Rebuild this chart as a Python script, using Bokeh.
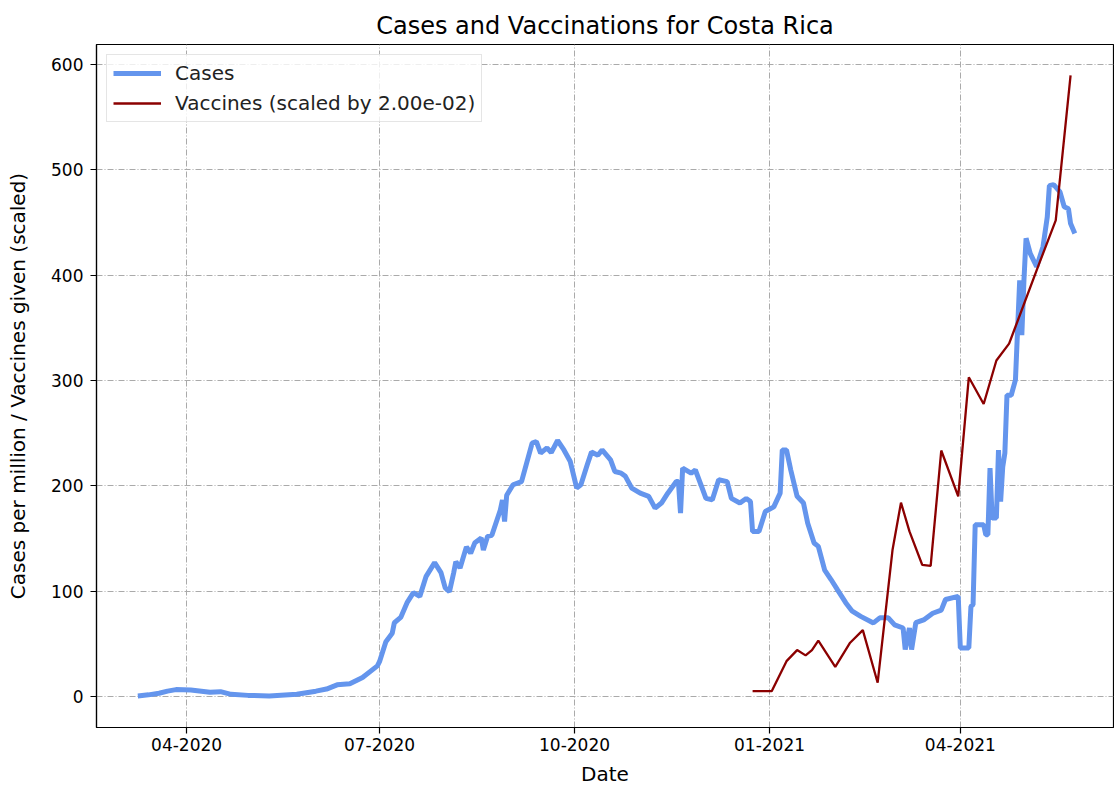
import pandas as pd
from bokeh.plotting import figure
from bokeh.models import Range1d, FixedTicker, DatetimeTickFormatter, ColumnDataSource
from bokeh.embed import file_html
from bokeh.resources import INLINE

# ---------------- data ----------------
case_dates = [
    "2020-03-09", "2020-03-14", "2020-03-19", "2020-03-23", "2020-03-27", "2020-04-03",
    "2020-04-08", "2020-04-12", "2020-04-17", "2020-04-22", "2020-04-30", "2020-05-10",
    "2020-05-23", "2020-06-01", "2020-06-06", "2020-06-11", "2020-06-17", "2020-06-23",
    "2020-06-30", "2020-07-01", "2020-07-04", "2020-07-07", "2020-07-08", "2020-07-11",
    "2020-07-14", "2020-07-17", "2020-07-20", "2020-07-23", "2020-07-27", "2020-07-30",
    "2020-08-01", "2020-08-03", "2020-08-05", "2020-08-06", "2020-08-08", "2020-08-11",
    "2020-08-13", "2020-08-15", "2020-08-18", "2020-08-19", "2020-08-21", "2020-08-23",
    "2020-08-27", "2020-08-28", "2020-08-29", "2020-08-30", "2020-09-02", "2020-09-06",
    "2020-09-11", "2020-09-13", "2020-09-15", "2020-09-18", "2020-09-20", "2020-09-23",
    "2020-09-26", "2020-09-29", "2020-10-02", "2020-10-04", "2020-10-07", "2020-10-09",
    "2020-10-12", "2020-10-14", "2020-10-18", "2020-10-20", "2020-10-23", "2020-10-25",
    "2020-10-28", "2020-11-01", "2020-11-05", "2020-11-08", "2020-11-11", "2020-11-14",
    "2020-11-18", "2020-11-19", "2020-11-20", "2020-11-21", "2020-11-25", "2020-11-27",
    "2020-11-30", "2020-12-02", "2020-12-05", "2020-12-08", "2020-12-12", "2020-12-14",
    "2020-12-18", "2020-12-21", "2020-12-23", "2020-12-24", "2020-12-27", "2020-12-30",
    "2021-01-03", "2021-01-06", "2021-01-07", "2021-01-09", "2021-01-11", "2021-01-14",
    "2021-01-17", "2021-01-19", "2021-01-22", "2021-01-24", "2021-01-27", "2021-01-30",
    "2021-02-02", "2021-02-06", "2021-02-09", "2021-02-13", "2021-02-19", "2021-02-22",
    "2021-02-26", "2021-03-01", "2021-03-05", "2021-03-06", "2021-03-08", "2021-03-09",
    "2021-03-11", "2021-03-15", "2021-03-19", "2021-03-23", "2021-03-25", "2021-03-31",
    "2021-04-01", "2021-04-05", "2021-04-06", "2021-04-07", "2021-04-08", "2021-04-12",
    "2021-04-13", "2021-04-14", "2021-04-15", "2021-04-16", "2021-04-18", "2021-04-19",
    "2021-04-20", "2021-04-21", "2021-04-22", "2021-04-23", "2021-04-25", "2021-04-27",
    "2021-04-28", "2021-04-29", "2021-04-30", "2021-05-01", "2021-05-02", "2021-05-04",
    "2021-05-07", "2021-05-10", "2021-05-12", "2021-05-13", "2021-05-15", "2021-05-18",
    "2021-05-20", "2021-05-22", "2021-05-23", "2021-05-25",
]
cases_per_million = [
    0.5, 1.5, 3, 5, 6.5, 6,
    5, 4, 4.5, 2, 1, 0.5,
    2, 5, 7, 11, 12, 18,
    29, 33, 52, 60, 70, 75,
    89, 98.5, 95, 114, 127, 117.5,
    103, 99.5, 117.5, 128, 122, 142,
    136, 146, 150.5, 139, 152, 153,
    177, 186.5, 166, 191, 201, 204,
    240.5, 242, 231, 236, 231.5, 243,
    234, 223, 198, 201, 220, 232,
    229, 234, 224.6, 213.6, 212, 209,
    197.8, 193, 190, 178.8, 183.6, 193,
    204, 204, 174, 216.8, 212, 215,
    199, 188, 186.7, 205.7, 204, 188,
    183.6, 188, 185, 156.5, 156.5, 175.6,
    180, 193, 234, 234, 215, 190,
    183.6, 164.4, 145.7, 142.5, 120, 111,
    101.4, 88.8, 80.9, 76, 69.8, 74.6,
    74.6, 68, 65, 44.5, 65, 44.5,
    70, 73, 79, 82, 92, 95,
    46, 46, 85.6, 87, 163, 163,
    153.6, 153.6, 216.8, 169.4, 169.4, 234,
    185, 218, 231, 286, 286, 300.5,
    348, 395, 343, 395, 435, 420.5,
    408, 427, 455, 485, 486, 479,
    465, 463, 449, 439.6,
]

vaccine_dates = [
    "2020-12-24", "2021-01-02", "2021-01-09", "2021-01-14", "2021-01-18", "2021-01-21",
    "2021-01-24", "2021-02-01", "2021-02-08", "2021-02-14", "2021-02-21", "2021-02-28",
    "2021-03-04", "2021-03-08", "2021-03-14", "2021-03-18", "2021-03-23", "2021-03-31",
    "2021-04-05", "2021-04-12", "2021-04-18", "2021-04-24", "2021-04-27", "2021-05-08",
    "2021-05-16", "2021-05-23",
]
vaccines_given = [
    250, 250, 1675, 2200, 1950, 2200,
    2650, 1400, 2550, 3150, 650, 6950,
    9200, 7835, 6250, 6200, 11675, 9500,
    15150, 13885, 15950, 16750, 17550, 20500,
    22600, 29480,
]
vaccine_scale = 0.02

x_tick_dates = ["2020-04-01", "2020-07-01", "2020-10-01", "2021-01-01", "2021-04-01"]
y_ticks = [0, 100, 200, 300, 400, 500, 600]
x_limits = ["2020-02-18 12:00", "2021-06-12 06:00"]
y_limits = [-29.5, 619]

# ---------------- figure ----------------
FONT = "DejaVu Sans"

cases_src = ColumnDataSource(dict(date=pd.to_datetime(case_dates), value=cases_per_million))
vacc_src = ColumnDataSource(dict(date=pd.to_datetime(vaccine_dates),
                                 value=[v * vaccine_scale for v in vaccines_given]))

p = figure(
    width=1114, height=789,
    x_axis_type="datetime",
    x_range=Range1d(pd.Timestamp(x_limits[0]), pd.Timestamp(x_limits[1])),
    y_range=Range1d(y_limits[0], y_limits[1]),
    output_backend="svg", toolbar_location=None,
    min_border_left=96, min_border_right=1, min_border_top=44, min_border_bottom=62,
    title="Cases and Vaccinations for Costa Rica",
)

p.line("date", "value", source=cases_src, line_color="#6495ED", line_width=5,
       legend_label="Cases")
p.line("date", "value", source=vacc_src, line_color="#8B0000", line_width=2.3,
       legend_label=f"Vaccines (scaled by {vaccine_scale:.2e})")

# title
p.title.text_font = FONT
p.title.text_font_size = "24px"
p.title.text_font_style = "normal"
p.title.align = "center"
p.title.text_color = "black"
p.title.standoff = 10

# frame
p.outline_line_color = "black"
p.outline_line_width = 1.2
p.background_fill_color = "white"
p.border_fill_color = "white"

# axes
tick_ms = [int(pd.Timestamp(d).value // 10**6) for d in x_tick_dates]
p.xaxis.ticker = FixedTicker(ticks=tick_ms, minor_ticks=[])
fmt = "%m-%Y"
p.xaxis.formatter = DatetimeTickFormatter(
    milliseconds=fmt, seconds=fmt, minsec=fmt, minutes=fmt, hourmin=fmt, hours=fmt,
    days=fmt, months=fmt, years=fmt)
p.yaxis.ticker = FixedTicker(ticks=y_ticks, minor_ticks=[])

p.xaxis.axis_label = "Date"
p.yaxis.axis_label = "Cases per million / Vaccines given (scaled)"

for ax in (p.xaxis, p.yaxis):
    ax.axis_label_text_font = FONT
    ax.axis_label_text_font_size = "20px"
    ax.axis_label_text_font_style = "normal"
    ax.axis_label_text_color = "black"
    ax.major_label_text_font = FONT
    ax.major_label_text_font_size = "17px"
    ax.major_label_text_color = "black"
    ax.axis_line_color = "black"
    ax.axis_line_width = 1.2
    ax.major_tick_line_color = "black"
    ax.major_tick_line_width = 1.2
    ax.major_tick_in = 0
    ax.major_tick_out = 6
    ax.minor_tick_line_color = None

p.xaxis.major_label_standoff = 4
p.xaxis.axis_label_standoff = 8
p.yaxis.major_label_standoff = 7
p.yaxis.axis_label_standoff = 18

# grid
for g in (p.xgrid, p.ygrid):
    g.grid_line_color = "#aaaaaa"
    g.grid_line_width = 1
    g.grid_line_dash = "6 2 1 2"

# legend
lg = p.legend[0]
lg.location = "top_left"
lg.margin = 10
lg.label_text_font = FONT
lg.label_text_font_size = "20px"
lg.label_text_color = "#222222"
lg.label_height = 24
lg.glyph_width = 48
lg.glyph_height = 24
lg.label_standoff = 14
lg.spacing = 6
lg.padding = 6
lg.border_line_color = "#cccccc"
lg.border_line_width = 1
lg.background_fill_color = "white"
lg.background_fill_alpha = 0.8

open("out.html", "w").write(file_html(p, INLINE))
